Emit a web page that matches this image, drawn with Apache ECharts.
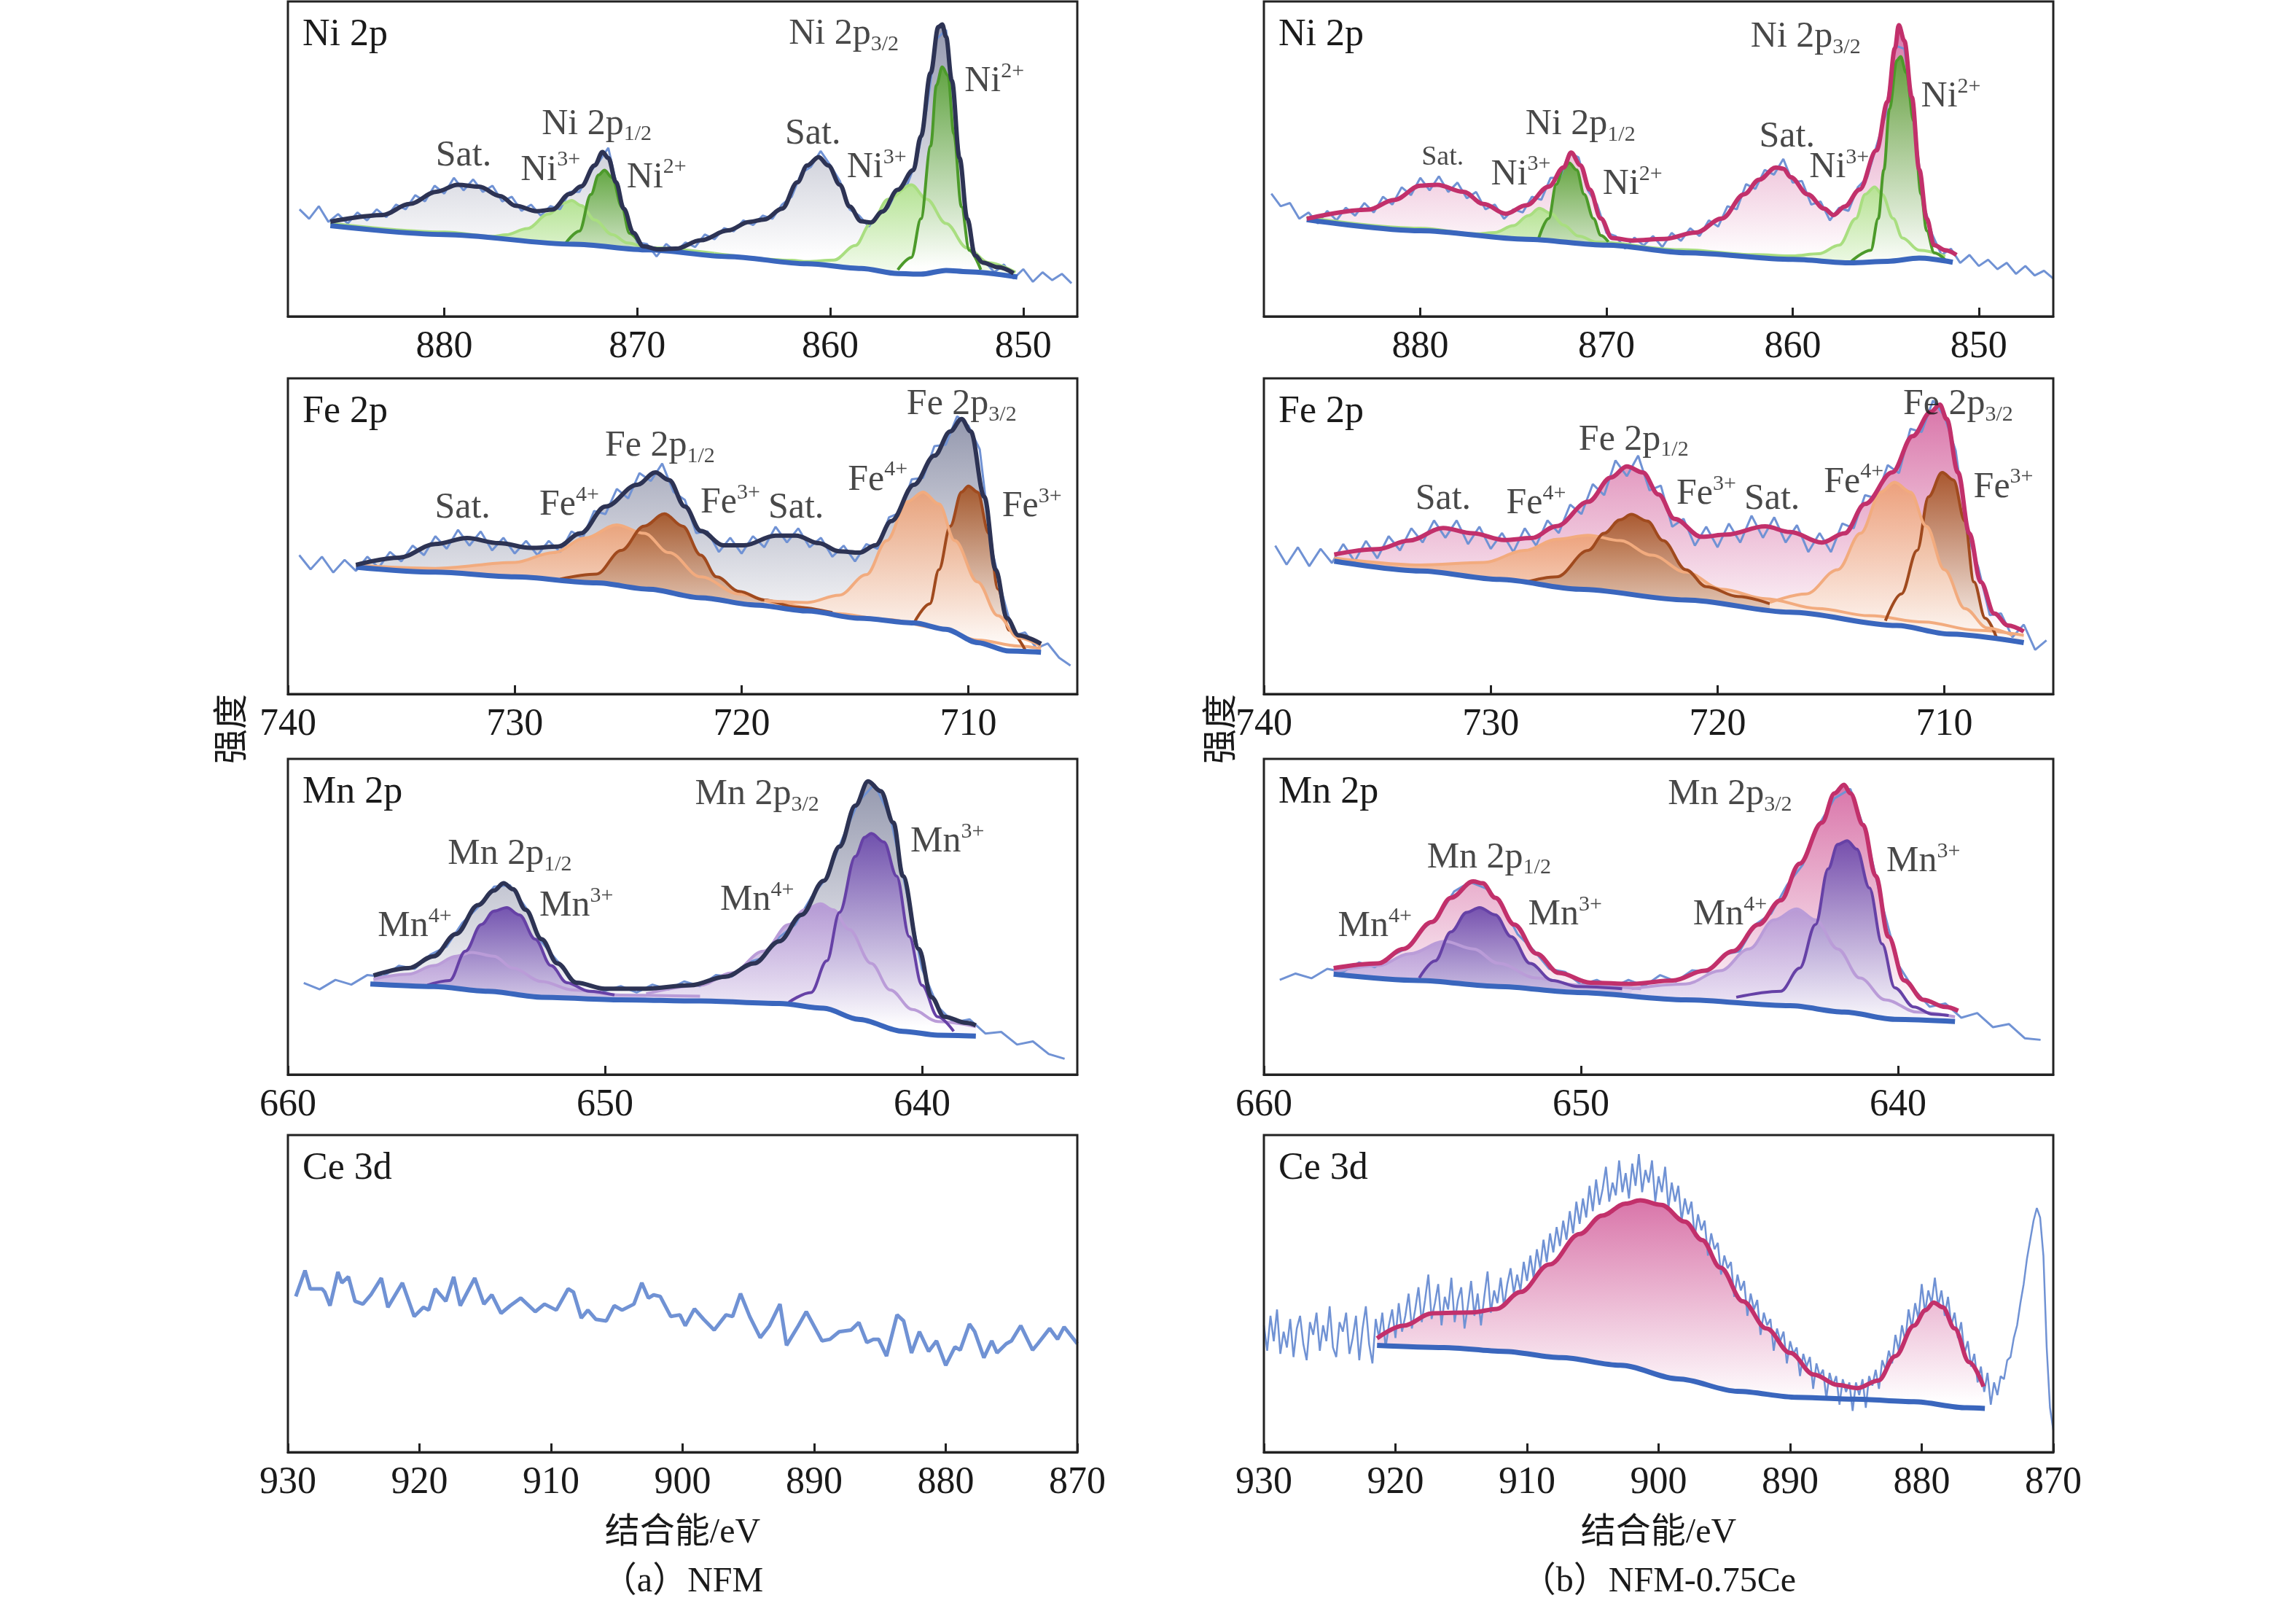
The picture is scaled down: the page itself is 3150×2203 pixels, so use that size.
<!DOCTYPE html>
<html>
<head>
<meta charset="utf-8">
<script src="https://cdn.jsdelivr.net/npm/echarts@6/dist/echarts.min.js"></script>
<style>
html,body{margin:0;padding:0;background:#fff}
#chart{width:3150px;height:2203px}
</style>
</head>
<body>
<div id="chart"></div>
<script>
// ---------- Ni 2p, NFM ----------
var niA_base = [[885.9,28.8],[880,26],[873.3,22.9],[869.4,21.1],[865.3,19],[861.2,16.7],[858.4,15.2],[856.5,13.6],[855.3,13.4],[854,14.6],[852.9,14.2],[850.3,12.5]];
var niA_env = [[885.9,30.1],[883.2,32.2],[881.8,35.7],[880.4,39.6],[879.3,41.8],[878.2,41.2],[877.1,38.2],[876.3,35.1],[875.2,33.4],[874.4,33.9],[873.5,38.9],[872.9,41.3],[872.2,48],[871.8,52.2],[871.5,50.3],[871.1,42.6],[870.7,34.2],[870.2,26.5],[869.7,22.3],[868.9,21.3],[868,21.5],[866.7,24.2],[865.3,27.3],[864.2,30],[863.4,30.8],[862.5,34.2],[861.7,42.6],[861.2,47.9],[860.6,50.6],[860.1,47.9],[859.5,41.8],[859,34.9],[858.4,30.2],[857.9,29.8],[857.3,33.3],[856.5,40.2],[855.7,46.4],[855.3,57.2],[854.8,77.3],[854.4,91.9],[854.2,92.7],[854,88.8],[853.7,74.9],[853.3,50.3],[852.9,31],[852.5,19.4],[852.1,17.1],[851.3,15.6],[850.5,13.7]];
var niA_ni3_12 = [[885.9,29.6],[880,26.8],[877.5,25.4],[876.8,25.9],[875.7,27.9],[874.6,32.5],[873.8,36],[873.4,36.8],[872.9,35.2],[872.2,30.6],[871.3,26],[870.5,23.3],[869.4,21.8],[866,20]];
var niA_ni2_12 = [[873.7,23.3],[873,27.1],[872.4,38.7],[872,44.9],[871.7,46.4],[871.3,44.1],[870.8,34.8],[870.4,26.4],[869.8,22.5]];
var niA_ni3_32 = [[866,20],[862,17.8],[861.2,17.4],[859.8,17.9],[858.7,22.5],[857.9,29.5],[857,37.2],[855.8,41.8],[855,37.2],[854,29.5],[852.9,21.7],[851.8,17.1],[850.4,14]];
var niA_ni2_32 = [[856.5,14.8],[855.8,18.7],[855.3,31],[854.8,54.1],[854.5,73.4],[854.2,79.2],[853.9,76.5],[853.6,58],[853.2,34.8],[852.8,21],[852.2,14.8]];
var niA_raw = [34,31,35,30,32.5,29.5,33,30.5,34,31.5,35.5,34,38.5,36.5,41.5,39,44,40,43.5,39.5,41.5,36.5,38,33.5,35.5,32,35,34,39.5,39.5,45.5,49,53.5,40,31,23.5,23,19,23,20.5,23.5,22,26,24.5,28,27,30.5,29,32,31,35.5,38,45.5,47.5,52.5,48,43,34,32,28.5,32.5,34.5,40.5,42,50,66,88,91,62,34,19.5,17.5,14,16.5,12,15,11,14,11.5,13.5,10.5];
var niA_rawStart = 887.5;
var niA_labels = [[859.3,89.6,'{m|Ni 2p}{sub|3/2}'],[851.5,74.6,'{m|Ni}{sup|2+}'],[879,51,'{m|Sat.}'],[874.5,46.4,'{m|Ni}{sup|3+}'],[872.1,61,'{m|Ni 2p}{sub|1/2}'],[869,44.1,'{m|Ni}{sup|2+}'],[860.9,58,'{m|Sat.}'],[857.6,47.2,'{m|Ni}{sup|3+}']];

// ---------- Ni 2p, NFM-0.75Ce ----------
var niB_base = [[886.1,30.7],[880,27.2],[874.3,24.5],[870,22.6],[865.7,20.2],[860,18.1],[856.9,17],[854.9,17.5],[853.2,18.5],[851.4,17.2]];
var niB_env = [[886.1,31],[882.8,33.9],[881.4,37],[880,41.5],[879.1,41.8],[877.7,39.6],[876.6,35.7],[875.4,32.6],[874.3,35.3],[873.1,41.2],[872.3,47.3],[871.9,52],[871.4,48],[870.9,40.3],[870.3,31.1],[869.7,24.9],[868.6,24.1],[866.9,24.6],[865.2,26.6],[863.8,31.1],[862.6,38.8],[861.8,43.4],[860.9,47.3],[860.5,46.9],[860.1,44.2],[859.2,38.8],[858.3,34.2],[857.8,32.2],[857.2,34.9],[856.4,40.3],[855.5,52.7],[854.9,68.2],[854.5,85.2],[854.3,92.5],[854,87.5],[853.6,69.7],[853.2,46.6],[852.8,31.1],[852.4,22.6],[851.8,21],[851.2,19.5]];
var niB_ni3_12 = [[886.1,31.4],[880,28],[877,26.2],[876,26.6],[875,28.8],[874.2,32],[873.6,34.3],[873,32.8],[872.3,29],[871.5,25.5],[870.5,23.6],[869,23]];
var niB_ni2_12 = [[873.7,23.7],[873.1,31.1],[872.7,41.9],[872.3,47.3],[872,48.7],[871.6,46.5],[871.2,38.8],[870.7,31.1],[870.3,25.7],[869.9,23.7]];
var niB_ni3_32 = [[869,23],[866,21.2],[862,19.6],[860,19.2],[858.6,19.9],[857.5,22.6],[856.6,31.1],[856.1,38.8],[855.6,41.1],[855.2,38.8],[854.6,31.1],[854.1,24.9],[853.2,21],[851.8,19.1]];
var niB_ni2_32 = [[856.9,17.2],[855.8,21],[855.4,31.1],[855.1,46.5],[854.8,65.8],[854.4,81.3],[854.2,82.5],[853.9,77.4],[853.5,62],[853.1,38.8],[852.8,27.2],[852.4,20.2],[851.8,17.9]];
var niB_raw = [39,35,36,31,33,29.5,33.5,30.5,34.5,32,36,33,38,35.5,41,38.5,44,40,44.5,39.5,42.5,37.5,39.5,34,35.5,31,34,33,38,37,44,44,52,50.5,40,35.5,26.5,25.5,21.5,25,22.5,25.5,22,26.5,24,28,25.5,30.5,28.5,35,34,42,40.5,46.5,45,50,42.5,43,35.5,36.5,30.5,34.5,33.5,41,44,54,64,86,85,64,36.5,26,19.5,21.5,17,19.5,16,18,15,17,13.5,16,13,14.5,12];
var niB_rawStart = 888;
var niB_labels = [[859.3,88.6,'{m|Ni 2p}{sub|3/2}'],[851.5,69.7,'{m|Ni}{sup|2+}'],[878.8,50.4,'{s|Sat.}'],[874.6,45,'{m|Ni}{sup|3+}'],[871.4,60.8,'{m|Ni 2p}{sub|1/2}'],[868.6,41.9,'{m|Ni}{sup|2+}'],[860.3,57,'{m|Sat.}'],[857.5,47.3,'{m|Ni}{sup|3+}']];

// ---------- Fe 2p, NFM ----------
var feA_base = [[737,40.2],[733.5,38.6],[730,37.1],[726.4,35.2],[724.1,33.2],[721.8,30.5],[719.4,28.2],[717.1,26.3],[714.8,24],[712.4,22.5],[711,20.5],[709.6,16.3],[708.2,13.6],[706.8,13.2]];
var feA_env = [[737,40.9],[735.1,43.2],[733.5,47.5],[732.1,49.4],[730.7,47.8],[729.3,46.3],[728.1,46.7],[727.1,50.9],[726,59.4],[724.6,66.3],[723.8,70.2],[723.2,67.8],[722.5,59.4],[721.8,51.7],[720.8,47.1],[719.9,47.1],[718.5,50.2],[717.6,50.2],[716.6,47.8],[715.7,45.2],[714.8,44.8],[714.1,47.1],[713.4,54.8],[712.4,66.3],[711.5,75.5],[710.8,83.2],[710.3,87.1],[709.9,83.2],[709.3,62.5],[708.8,39.4],[708.3,24],[707.8,18.6],[706.8,15.9]];
var feA_fe4_12 = [[737,40.8],[733.5,39.8],[730,41.7],[728.3,44.8],[726.9,49.4],[725.5,53.6],[724.3,50.9],[723.2,44.8],[721.8,37.1],[720.1,31.7],[718.3,28.6],[715.9,25.5],[713.6,23.6],[711.3,20.9],[709.6,17.1],[707.8,15.2],[706.8,14.4]];
var feA_fe3_12 = [[728,36.4],[726.4,38],[725.3,45.5],[724.3,53.2],[723.4,57.1],[722.6,53.2],[721.8,44],[721.1,37.1],[720.1,32.5],[719,29.8],[717.6,27.5],[716,25.8]];
var feA_fe4_32 = [[719,29.6],[717.1,29],[715.7,31.3],[714.5,37.8],[713.6,48.6],[712.7,60.9],[712,64],[711.3,60.2],[710.6,48.6],[709.6,35.5],[708.7,24.8],[707.8,17.8],[706.8,15.2]];
var feA_fe3_32 = [[712.4,22.5],[711.7,28.6],[711.3,39.4],[710.8,53.2],[710.3,64],[710,65.9],[709.6,64],[709.1,50.9],[708.7,33.2],[708.2,20.2],[707.5,14]];
var feA_raw = [44,39.5,43.5,38.5,42.5,39,43.5,40,45,42,47,44,50,46,52,47,51.5,45.5,49.5,44.5,48.5,44,48.5,45,51.5,49.5,58,57,65,62,70,67.5,73,64,61.5,51,51.5,45,49.5,44.5,50,46.5,53,48,52.5,46.5,49.5,43.5,47,42,47.5,46,56,57.5,68,68.5,78.5,79,88,85,77.5,47,31.5,18.5,19.5,14.5,16,11.5,9];
var feA_rawStart = 739.5;
var feA_labels = [[710.3,91.7,'{m|Fe 2p}{sub|3/2}'],[723.6,78.6,'{m|Fe 2p}{sub|1/2}'],[732.3,59,'{m|Sat.}'],[727.6,59.8,'{m|Fe}{sup|4+}'],[720.5,60.5,'{m|Fe}{sup|3+}'],[717.6,59,'{m|Sat.}'],[714,67.8,'{m|Fe}{sup|4+}'],[707.2,59.4,'{m|Fe}{sup|3+}']];

// ---------- Fe 2p, NFM-0.75Ce ----------
var feB_base = [[736.9,42.1],[733.1,39],[729.6,36.3],[726.1,33.2],[721.4,29.8],[716.8,25.9],[712.1,21.7],[709.8,19],[706.5,16.3]];
var feB_env = [[736.9,44.2],[735,45.9],[733.6,48.6],[732.1,52.6],[730.8,50.9],[729.4,48.8],[728.2,49.4],[727.1,53.2],[725.7,60.9],[724.7,68.6],[724,72.1],[723.3,70.2],[722.6,63.2],[721.9,55.5],[720.7,49.8],[719.6,50.5],[717.9,53.1],[716.8,51.3],[715.4,48],[714.4,50.9],[713.5,60.2],[712.3,70.2],[711.4,81.7],[710.6,89.4],[710.2,91.7],[709.9,87.1],[709.4,70.2],[708.9,50.9],[708.4,35.5],[707.8,25.5],[707.2,21.7],[706.5,19.8]];
var feB_fe4_12 = [[736.9,43.1],[733.1,40.9],[730.3,41.7],[728.5,45.5],[727.1,49],[725.7,50.3],[724.3,48.6],[722.9,44],[721.4,38.6],[719.8,33.2],[717.9,30.2],[715.6,27.1],[713.3,24.8],[710.9,22.8],[708.6,20.2],[706.5,18.6]];
var feB_fe3_12 = [[728.5,35.3],[727.1,37.1],[725.7,45.5],[725,50.9],[724.3,55.2],[723.8,56.9],[723.1,54.8],[722.4,48.6],[721.4,39.4],[720.5,34],[719.1,30.9],[717.7,28.6]];
var feB_fe4_32 = [[717.7,29],[716.1,31.7],[714.7,39.4],[713.7,50.9],[712.8,64],[712.2,67.1],[711.5,64],[710.8,53.2],[710,39.4],[709.1,27.1],[708.1,20.9],[707,18.6]];
var feB_fe3_32 = [[712.6,23.2],[711.9,31.7],[711.2,45.5],[710.7,62.5],[710.1,70.2],[709.6,67.8],[709.1,54.8],[708.7,35.5],[708.2,24],[707.7,17.8]];
var feB_raw = [47,41,46.5,40.5,46,41.5,47.5,42,48.5,43,50,45.5,52.5,48,55,49.5,55,47.5,53,46,51,45,52.5,47,55,51,60,57,66.5,63,74,69,75.5,64.5,66,53,55.5,47,53,46.5,54,48,56.5,49.5,56,48,53.5,45,51,45,54,52.5,63,62,72.5,70,84,83,93,88,77,51,40,25,25.5,18,22,14,17];
var feB_rawStart = 739.5;
var feB_labels = [[709.4,91.7,'{m|Fe 2p}{sub|3/2}'],[723.7,80.5,'{m|Fe 2p}{sub|1/2}'],[732.1,61.7,'{m|Sat.}'],[728,60.2,'{m|Fe}{sup|4+}'],[720.5,63.2,'{m|Fe}{sup|3+}'],[717.6,61.7,'{m|Sat.}'],[714,67.1,'{m|Fe}{sup|4+}'],[707.4,65.5,'{m|Fe}{sup|3+}']];

// ---------- Mn 2p, NFM ----------
var mnA_base = [[657.4,28.7],[655.4,27.9],[653.7,26.4],[652,24.5],[649.5,23.7],[647,23.3],[644.5,22.5],[643.1,21],[642,17.5],[640.6,13.7],[639.5,12.5],[638.3,12.2]];
var mnA_env = [[657.3,31.4],[656.2,33.7],[655.4,37.5],[654.7,44.5],[654,53.7],[653.5,58.3],[653.2,60.6],[652.9,58.7],[652.5,52.2],[652,42.9],[651.5,35.2],[650.9,29.1],[650,27.2],[648.7,27.2],[647.3,28.3],[646.2,31],[645.3,35.2],[644.5,42.2],[643.8,50.6],[643.1,61.4],[642.6,72.2],[642.1,85.2],[641.7,92.9],[641.3,89.8],[640.9,79.8],[640.6,62.9],[640.1,39.8],[639.7,24.5],[639.3,18.3],[638.6,16.4],[638.3,15.6]];
var mnA_mn4_12 = [[657.3,30.2],[656.2,31.8],[655.4,34.5],[654.7,37.5],[654.2,38.7],[653.5,37.5],[652.9,33.7],[652,29.5],[651,26.8],[649.5,25.2],[647,24.8]];
var mnA_mn3_12 = [[655.6,28.3],[654.9,29.8],[654.4,39.1],[653.9,47.5],[653.5,51.8],[653.1,52.9],[652.7,50.6],[652.2,42.9],[651.7,34.5],[651.2,29.1],[650.5,26.4],[649.7,25.2]];
var mnA_mn4_32 = [[648.7,25.6],[647,28.3],[646,32.2],[645,39.1],[644.2,47.5],[643.7,52.2],[643.2,54.1],[642.8,52.2],[642.3,46],[641.6,35.2],[641,26.8],[640.3,20.6],[639.5,16.8],[638.3,15.2]];
var mnA_mn3_32 = [[644.2,22.9],[643.5,26],[643,36],[642.6,51.4],[642.1,69.1],[641.8,75.2],[641.6,76.4],[641.2,73.7],[640.8,62.9],[640.4,43.7],[640,28.3],[639.5,18.3],[639,13.7]];
var mnA_raw = [29,27,30,28.5,31.5,31,34.5,33.5,38,40.5,48,53,59.5,60,53,42,36,29.5,28.5,26.5,28,26,28.5,27,29.5,28,31.5,31,35.5,37,43.5,47.5,56,62.5,75,86.5,92,81.5,58.5,33.5,21.5,16.5,17.5,13,13.5,9.5,10.5,6.5,5];
var mnA_rawStart = 659.5;
var mnA_labels = [[645.2,88.7,'{m|Mn 2p}{sub|3/2}'],[639.2,73.7,'{m|Mn}{sup|3+}'],[653,69.8,'{m|Mn 2p}{sub|1/2}'],[650.9,53.3,'{m|Mn}{sup|3+}'],[656,46.8,'{m|Mn}{sup|4+}'],[645.2,55.2,'{m|Mn}{sup|4+}']];

// ---------- Mn 2p, NFM-0.75Ce ----------
var mnB_base = [[657.8,31.8],[655.1,29.8],[652.6,27.9],[650.1,26],[646.7,23.7],[643.4,21.8],[641.7,19.8],[640.1,17.5],[638.2,16.8]];
var mnB_env = [[657.8,33.7],[656.4,35.2],[655.6,39.8],[654.7,48.3],[654.1,56],[653.4,61.2],[653.1,60.6],[652.7,56],[652.1,47.5],[651.4,38.3],[650.7,32.2],[649.7,29.1],[648.4,28.7],[647.1,29.8],[646.1,32.9],[645.2,39.1],[644.4,47.5],[643.7,55.2],[643.1,66.8],[642.4,79.8],[642,89.1],[641.7,91.8],[641.5,89.1],[641.1,79.1],[640.7,62.9],[640.3,43.7],[639.8,29.8],[639.2,23.7],[638.5,21.4],[638.1,20.2]];
var mnB_mn4_12 = [[657.8,32.5],[656.4,34.5],[655.4,38.3],[654.3,42.2],[653.4,39.8],[652.6,35.2],[651.4,30.6],[650.1,28.3],[648.1,27.2]];
var mnB_mn3_12 = [[655.1,30.6],[654.6,36],[654.1,45.2],[653.6,51.4],[653.2,52.9],[652.7,50.6],[652.2,43.7],[651.6,35.2],[650.9,29.8],[650.1,27.9],[648.7,27.2]];
var mnB_mn4_32 = [[648.4,27.2],[646.7,28.7],[645.6,32.9],[644.7,39.8],[643.9,49],[643.2,52.5],[642.6,49],[641.9,39.8],[641.2,30.6],[640.4,23.7],[639.4,19.8],[638.2,18.3]];
var mnB_mn3_32 = [[645.1,24.5],[643.7,26.4],[643.1,33.7],[642.6,47.5],[642.2,65.2],[641.9,72.9],[641.6,74.1],[641.3,71.4],[640.9,59.1],[640.5,41.4],[640.1,27.5],[639.5,21.4],[638.9,19.1],[638.4,18.7]];
var mnB_raw = [30,32,30.5,33.5,32.5,35.5,34,37.5,40,46,50,58,61,59,54,44.5,39.5,33.5,32.5,28.5,30,27.5,30,28,31.5,29.5,33,32.5,38,39,47.5,51,60,66.5,79,87.5,90.5,76,54,35,27,21.5,22.5,18,19.5,15,16,11.5,11];
var mnB_rawStart = 659.5;
var mnB_labels = [[645.3,88.7,'{m|Mn 2p}{sub|3/2}'],[639.2,67.5,'{m|Mn}{sup|3+}'],[652.9,68.7,'{m|Mn 2p}{sub|1/2}'],[650.5,50.6,'{m|Mn}{sup|3+}'],[656.5,46.8,'{m|Mn}{sup|4+}'],[645.3,50.6,'{m|Mn}{sup|4+}']];

// ---------- Ce 3d, NFM (raw only) ----------
var ceA_x = [929.4,928.7,928.3,927.4,927.2,926.8,926.2,925.9,925.4,924.9,924.3,923.7,922.9,922.4,921.3,920.4,919.7,919.3,918.8,918,917.4,916.9,915.8,915.1,914.5,913.8,913.1,912.3,911.2,910.5,909.6,908.7,908.3,907.7,907.2,906.6,905.8,905.2,904.6,903.7,903.1,902.6,902.2,901.7,900.9,900.2,899.8,899.1,898.4,897.6,896.7,896.2,895.6,894.9,894.1,893.4,892.6,892.1,891.2,890.6,889.4,888.8,888.1,887.2,886.6,886,885.5,885.1,884.5,883.7,883.2,882.6,882,881.3,880.7,880,879.3,878.9,878.2,877.8,877.1,876.5,876.1,875.4,875,874.3,873.4,873,872.1,871.5,871,870];
var ceA_y = [49.1,57.3,51.5,51.5,50.5,46.2,56.8,53.4,55.3,47.6,46.7,49.6,54.9,45.7,53.4,42.8,45.7,44.8,51.5,47.6,55.3,46.2,54.9,46.7,49.6,43.8,46.2,48.6,44.3,46.7,44.8,51.5,50.5,42.3,44.8,41.9,41.4,46.2,44.8,46.7,53.4,48.6,49.6,49.1,42.8,43.3,39.9,45.2,41.9,38.5,43.3,42.8,50,42.8,36.1,39.9,46.7,33.7,39.9,44.3,35.1,35.6,38,38.5,40.9,34.6,35.6,35.6,30.3,43.3,41.4,31.3,38,31.8,35.1,27.4,33.2,32.2,40.4,38,29.8,35.1,31.3,34.2,35.1,39.9,32.2,34.2,39,35.6,39.5,34.2];

// ---------- Ce 3d, NFM-0.75Ce ----------
var ceB_base = [[921.4,33.7],[916.3,33],[911.8,31.8],[907.4,29.8],[902.9,27.4],[898.5,23.1],[894,19.2],[889.5,17.3],[885.1,16.7],[880.6,15.9],[876.6,14],[875.2,13.8]];
var ceB_env = [[921.4,35.9],[919.4,39.9],[917.2,43.8],[914.1,44.1],[912.3,45.2],[910.5,50.5],[908.3,59.2],[906,68.8],[904.3,74.6],[902.5,78.4],[901.4,79.4],[899.8,78],[898,72.7],[896.7,66.9],[895.3,58.2],[893.6,47.6],[891.8,39],[890,31.3],[888.2,24.5],[886.4,21.2],[884.9,20.2],[883.3,22.6],[882,30.3],[880.6,39.9],[879.7,44.8],[879.1,47.2],[878.4,45.7],[877.5,39],[876.4,28.4],[875.3,20.7]];
var ceB_raw = [40,32,43,35,45,31,38,33,42,30,39,43,34,29,41,37,44,32,40,35,46,33,30,41,38,44,31,36,43,29,39,46,34,28,42,36,
  44,33,40,45,36,47,38,43,50,39,45,52,41,48,56,42,47,53,40,49,45,55,41,48,52,39,46,54,43,50,40,49,57,44,51,47,55,46,53,58,50,56,51,60,54,62,55,64,58,67,60,69,63,71,65,73,67,76,69,79,72,80,74,84,76,86,78,83,90,79,85,81,92,82,88,80,91,84,94,82,89,85,92,79,87,82,90,77,85,79,84,73,80,75,79,68,75,70,73,62,69,64,66,56,62,58,60,49,56,51,54,43,50,45,48,37,44,40,42,32,39,35,38,28,35,31,33,24,31,27,30,20,28,24,26,17,25,21,24,15,23,19,22,13,22,18,23,14,24,21,26,20,29,26,32,28,37,32,40,35,45,39,47,42,53,44,51,47,55,46,51,43,49,40,44,36,41,31,35,27,31,22,27,19,25,15,22,18,24,23,29,30,36,40,47,53,61,67,73,77,74,62,33,14,7];
var ceB_rawStart = 930;
var ceB_rawStep = 0.25;

var SERIF = '"Liberation Serif","Times New Roman",serif';
var MIXED = '"Liberation Serif","Noto Sans CJK SC",serif';

var colors = {
  ni2: {line: '#4c9a2a', fill: '#58a233'},
  ni3: {line: '#a9de80', fill: '#b0e38b'},
  fe3: {line: '#a04a1e', fill: '#a3501f'},
  fe4: {line: '#f2ab7e', fill: '#eda074'},
  mn3: {line: '#6641a6', fill: '#6a47ab'},
  mn4: {line: '#ba9cd8', fill: '#b294d4'}
};
var envStyle = {
  a: {line: '#2d3354', fill: '#8f93aa'},
  b: {line: '#c2306b', fill: '#d76ea5'}
};

function stepped(vals, start, step) {
  step = step || 0.5;
  return vals.map(function (v, i) { return [start - i * step, v]; });
}
function zip(xs, ys) {
  var out = [];
  for (var i = 0; i < Math.min(xs.length, ys.length); i++) out.push([xs[i], ys[i]]);
  return out;
}

var colLeft = [395, 1734];
var colWidth = 1083;
var rowTop = [2, 519, 1041, 1557];
var rowHeight = [432, 433, 433, 435];

var panels = [
  {col: 0, row: 0, min: 847.2, max: 888.1, ticks: [850, 860, 870, 880], title: 'Ni 2p', side: 'a',
   base: niA_base, env: niA_env, comps: [[niA_ni3_12, 'ni3'], [niA_ni2_12, 'ni2'], [niA_ni3_32, 'ni3'], [niA_ni2_32, 'ni2']],
   raw: stepped(niA_raw, niA_rawStart), labels: niA_labels},
  {col: 1, row: 0, min: 846, max: 888.4, ticks: [850, 860, 870, 880], title: 'Ni 2p', side: 'b',
   base: niB_base, env: niB_env, comps: [[niB_ni3_12, 'ni3'], [niB_ni2_12, 'ni2'], [niB_ni3_32, 'ni3'], [niB_ni2_32, 'ni2']],
   raw: stepped(niB_raw, niB_rawStart), labels: niB_labels},
  {col: 0, row: 1, min: 705.2, max: 740, ticks: [710, 720, 730, 740], title: 'Fe 2p', side: 'a',
   base: feA_base, env: feA_env, comps: [[feA_fe4_12, 'fe4'], [feA_fe3_12, 'fe3'], [feA_fe3_32, 'fe3'], [feA_fe4_32, 'fe4']],
   raw: stepped(feA_raw, feA_rawStart), labels: feA_labels},
  {col: 1, row: 1, min: 705.2, max: 740, ticks: [710, 720, 730, 740], title: 'Fe 2p', side: 'b',
   base: feB_base, env: feB_env, comps: [[feB_fe4_12, 'fe4'], [feB_fe3_12, 'fe3'], [feB_fe3_32, 'fe3'], [feB_fe4_32, 'fe4']],
   raw: stepped(feB_raw, feB_rawStart), labels: feB_labels},
  {col: 0, row: 2, min: 635.1, max: 660, ticks: [640, 650, 660], title: 'Mn 2p', side: 'a',
   base: mnA_base, env: mnA_env, comps: [[mnA_mn4_12, 'mn4'], [mnA_mn3_12, 'mn3'], [mnA_mn4_32, 'mn4'], [mnA_mn3_32, 'mn3']],
   raw: stepped(mnA_raw, mnA_rawStart), labels: mnA_labels},
  {col: 1, row: 2, min: 635.1, max: 660, ticks: [640, 650, 660], title: 'Mn 2p', side: 'b',
   base: mnB_base, env: mnB_env, comps: [[mnB_mn4_12, 'mn4'], [mnB_mn3_12, 'mn3'], [mnB_mn4_32, 'mn4'], [mnB_mn3_32, 'mn3']],
   raw: stepped(mnB_raw, mnB_rawStart), labels: mnB_labels},
  {col: 0, row: 3, min: 870, max: 930, ticks: [870, 880, 890, 900, 910, 920, 930], title: 'Ce 3d', side: 'a',
   base: null, env: null, comps: [], raw: zip(ceA_x, ceA_y), rawWidth: 5, labels: []},
  {col: 1, row: 3, min: 870, max: 930, ticks: [870, 880, 890, 900, 910, 920, 930], title: 'Ce 3d', side: 'b',
   base: ceB_base, env: ceB_env, comps: [], raw: stepped(ceB_raw, ceB_rawStart, ceB_rawStep), rawWidth: 2.5, labels: []}
];

function grad(c) {
  return {type: 'linear', x: 0, y: 0, x2: 0, y2: 1,
    colorStops: [{offset: 0, color: c}, {offset: 0.8, color: '#ffffff'}]};
}

var grids = [], xAxes = [], yAxes = [], series = [], titles = [];
var rich = {
  m: {fontFamily: SERIF, fontSize: 50, lineHeight: 58, color: '#1a1a1a'},
  s: {fontFamily: SERIF, fontSize: 38, lineHeight: 58, color: '#1a1a1a'},
  sup: {fontFamily: SERIF, fontSize: 30, lineHeight: 30, verticalAlign: 'top', color: '#1a1a1a'},
  sub: {fontFamily: SERIF, fontSize: 30, lineHeight: 30, verticalAlign: 'bottom', color: '#1a1a1a'}
};

panels.forEach(function (p, i) {
  var left = colLeft[p.col], top = rowTop[p.row];
  grids.push({left: left, top: top, width: colWidth, height: rowHeight[p.row],
    show: true, borderColor: '#222', borderWidth: 3, backgroundColor: 'transparent', z: 10});
  xAxes.push({gridIndex: i, type: 'value', inverse: true, min: p.min, max: p.max, z: 10,
    axisLine: {show: true, lineStyle: {color: '#222', width: 3}},
    axisTick: {show: true, inside: true, length: 12, customValues: p.ticks, lineStyle: {color: '#222', width: 3}},
    axisLabel: {show: true, customValues: p.ticks, fontFamily: SERIF, fontSize: 52, color: '#1a1a1a', margin: 16},
    splitLine: {show: false}});
  yAxes.push({gridIndex: i, type: 'value', min: 0, max: 100, show: false});
  titles.push({text: p.title, left: left + 20, top: top + 20, padding: 0,
    textStyle: {fontFamily: SERIF, fontSize: 52, fontWeight: 'normal', color: '#1a1a1a'}});

  var es = envStyle[p.side];
  var common = {type: 'line', xAxisIndex: i, yAxisIndex: i, symbol: 'none', silent: true,
    smooth: 0.35, smoothMonotone: 'x'};
  function mk(extra) { return Object.assign({}, common, extra); }

  if (p.env) series.push(mk({data: p.env, lineStyle: {width: 0, opacity: 0},
    areaStyle: {color: grad(es.fill), opacity: 0.95}, z: 1}));
  p.comps.forEach(function (c) {
    series.push(mk({data: c[0], lineStyle: {width: 0, opacity: 0},
      areaStyle: {color: grad(colors[c[1]].fill), opacity: 0.9}, z: 2}));
  });
  // white fill under the background line hides the part of each area below it
  if (p.base) {
    [-3, 3].forEach(function (dx) {
      series.push(mk({data: p.base, smooth: 0.3, lineStyle: {width: 0, opacity: 0},
        areaStyle: {color: '#ffffff', opacity: 1, shadowColor: '#ffffff', shadowBlur: 0, shadowOffsetX: dx}, z: 3}));
    });
  }
  series.push(mk({data: p.raw, smooth: false, lineStyle: {color: '#7092d4', width: p.rawWidth || 3}, z: 4}));
  p.comps.forEach(function (c) {
    series.push(mk({data: c[0], lineStyle: {color: colors[c[1]].line, width: 4}, z: 5}));
  });
  if (p.base) series.push(mk({data: p.base, smooth: 0.3, lineStyle: {color: '#3a66bd', width: 7}, z: 6}));
  if (p.env) series.push(mk({data: p.env, lineStyle: {color: es.line, width: 6}, z: 7}));
  if (p.labels.length) {
    series.push({type: 'scatter', xAxisIndex: i, yAxisIndex: i, silent: true, symbolSize: 1, z: 8,
      itemStyle: {color: 'rgba(0,0,0,0)'},
      label: {show: true, position: 'inside', rich: rich},
      data: p.labels.map(function (l) {
        return {value: [l[0], l[1]], label: {formatter: l[2]}};
      })});
  }
});

function txt(x, y, text, size, rot) {
  return {type: 'text', x: x, y: y, rotation: rot || 0, silent: true, z: 20,
    style: {text: text, fill: '#1a1a1a', font: size + 'px ' + MIXED,
      textAlign: 'center', textVerticalAlign: 'middle', align: 'center', verticalAlign: 'middle'}};
}
var midL = colLeft[0] + colWidth / 2, midR = colLeft[1] + colWidth / 2;

var chart = echarts.init(document.getElementById('chart'), null, {renderer: 'canvas'});
chart.setOption({
  animation: false,
  backgroundColor: '#ffffff',
  title: titles,
  grid: grids,
  xAxis: xAxes,
  yAxis: yAxes,
  series: series,
  graphic: [
    txt(320, 1000, '强度', 48, Math.PI / 2),
    txt(1677, 1000, '强度', 48, Math.PI / 2),
    txt(midL, 2103, '结合能/eV', 48),
    txt(midR, 2103, '结合能/eV', 48),
    txt(midL, 2170, '（a）NFM', 48),
    txt(midR, 2170, '（b）NFM-0.75Ce', 48)
  ]
});
</script>
</body>
</html>
